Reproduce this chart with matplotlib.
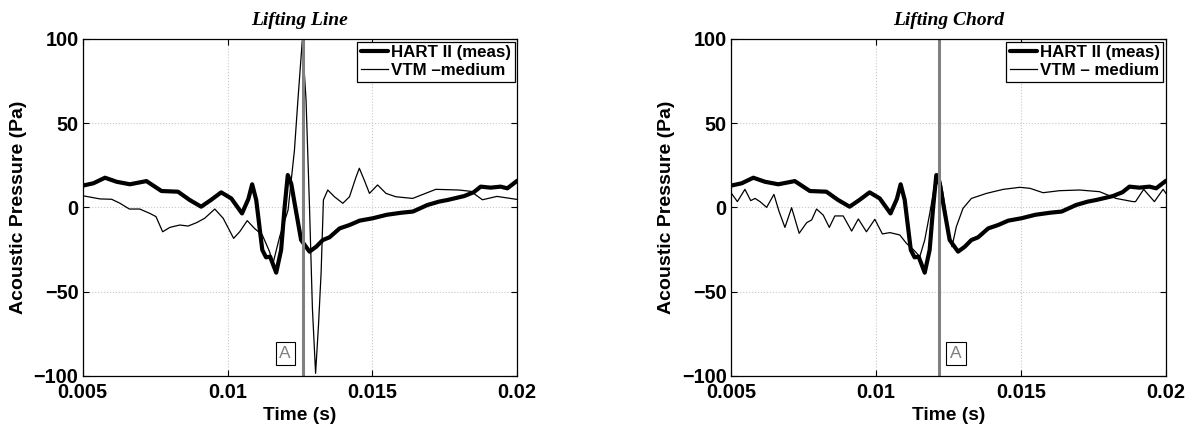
import numpy as np
import matplotlib
matplotlib.use('Agg')
import matplotlib.pyplot as plt

plt.rcParams['font.family'] = ['Liberation Sans', 'DejaVu Sans']
plt.rcParams['font.weight'] = 'bold'

# Измерения HART II (время в мс, давление в Па)
hart_t = [5.0, 5.37, 5.77, 6.17, 6.63, 7.2, 7.72, 8.29, 8.69, 9.09,
          9.43, 9.78, 10.13, 10.5, 10.72, 10.85, 10.99, 11.2, 11.33, 11.47,
          11.68, 11.85, 11.97, 12.08, 12.2, 12.31, 12.54, 12.83, 13.06, 13.29,
          13.52, 13.87, 14.21, 14.56, 15.01, 15.5, 16.0, 16.4, 16.9, 17.3,
          17.6, 18.17, 18.5, 18.74, 19.08, 19.43, 19.66, 20.0]
hart_p = [12.9, 14.3, 17.6, 15.2, 13.7, 15.6, 9.7, 9.3, 4.4, 0.4,
          4.4, 8.9, 5.3, -3.6, 5, 13.7, 4.4, -25.3, -29.7, -29.3,
          -38.8, -25.3, 0, 19.2, 14, 3, -19.4, -26.3, -23.4, -19.4,
          -17.8, -12.5, -10.5, -7.9, -6.5, -4.4, -3.2, -2.5, 1.4, 3.4,
          4.4, 6.7, 9, 12.3, 11.7, 12.3, 11.3, 15.8]

# VTM - Lifting Line
line_t = [5.0, 5.6, 6.0, 6.29, 6.61, 6.97, 7.32, 7.53, 7.76, 8.01,
          8.35, 8.64, 8.93, 9.21, 9.56, 9.85, 10.21, 10.42, 10.68, 10.93,
          11.2, 11.45, 11.57, 11.8, 12.09, 12.31, 12.43, 12.58, 12.71, 12.83,
          12.93, 13.04, 13.14, 13.23, 13.31, 13.46, 13.69, 13.98, 14.21, 14.44,
          14.55, 14.72, 14.9, 15.18, 15.47, 15.81, 16.39, 17.19, 17.99, 18.4,
          18.8, 19.3, 20.0]
line_p = [6.9, 5, 4.8, 2.4, -1, -1, -3.6, -5.5, -14.5, -11.9,
          -10.5, -11.1, -9.1, -6.5, -1, -6.5, -18.4, -14.5, -7.9, -12.5,
          -16.4, -26.3, -33.3, -17.4, -1.6, 34, 63.8, 99, 64, 0,
          -60, -98.6, -70, -39, 4.4, 10.3, 6.3, 2.4, 6.3, 18.2,
          23.2, 16.2, 8.3, 13.3, 8.3, 6.3, 5.3, 10.7, 10.3, 9.5,
          4.5, 6.5, 4.7]

# VTM - Lifting Chord
chord_t = [5.0, 5.22, 5.48, 5.68, 5.83, 6.0, 6.23, 6.48, 6.66, 6.86,
           7.09, 7.35, 7.61, 7.78, 7.95, 8.18, 8.39, 8.58, 8.87, 9.16,
           9.39, 9.67, 9.96, 10.22, 10.48, 10.82, 11.05, 11.3, 11.51, 11.68,
           11.86, 12.03, 12.17, 12.31, 12.49, 12.62, 12.77, 13.0, 13.29, 13.81,
           14.39, 14.96, 15.31, 15.76, 16.33, 17.02, 17.71, 18.28, 18.86, 18.95,
           19.23, 19.6, 19.9, 20.0]
chord_p = [8.7, 3.4, 10.7, 4, 5.3, 3.4, 0, 7.7, -2.6, -11.9,
           -0.2, -15.4, -9.1, -7.5, -1, -4.6, -11.9, -5.1, -5.1, -14.1,
           -6.9, -14.5, -7.1, -15.8, -15, -16.4, -21.4, -25.3, -29.3, -19.4,
           -3, 14.3, 21.2, 8.3, -13.5, -23.4, -11.5, -0.6, 5.3, 8.3,
           10.7, 11.9, 11.3, 8.7, 9.9, 10.3, 9.3, 5.3, 3.4, 3.4,
           10.7, 3.4, 10.7, 8.3]

titles = ['Lifting Line', 'Lifting Chord']
vtm_labels = ['VTM \u2013medium', 'VTM \u2013 medium']
marker_t = [12.6, 12.18]      # положение линии "A", мс
label_t = [11.99, 12.76]      # положение подписи "A", мс
xticks = [0.005, 0.01, 0.015, 0.02]
xticklabels = ['0.005', '0.01', '0.015', '0.02']
yticks = [-100, -50, 0, 50, 100]

fig = plt.figure(figsize=(11.92, 4.29), dpi=100)
W, H = 1192.0, 429.0
axes = [fig.add_axes([82.7 / W, 1 - 375.7 / H, 434.5 / W, 336.7 / H]),
        fig.add_axes([731.0 / W, 1 - 375.7 / H, 435.0 / W, 336.7 / H])]

vtm_data = [(line_t, line_p), (chord_t, chord_p)]

for i, ax in enumerate(axes):
    ht = np.array(hart_t) * 1e-3
    vt = np.array(vtm_data[i][0]) * 1e-3
    ax.grid(True, linestyle=':', color='#c8c8c8', linewidth=0.8)
    ax.plot(ht, hart_p, color='black', linewidth=3.0, label='HART II (meas)',
            solid_joinstyle='round', solid_capstyle='round')
    ax.plot(vt, vtm_data[i][1], color='black', linewidth=0.9, label=vtm_labels[i],
            solid_joinstyle='round')
    ax.axvline(marker_t[i] * 1e-3, color='#808080', linewidth=2.2)
    ax.text(label_t[i] * 1e-3, -87, 'A', color='#808080', fontsize=12.5,
            fontweight='normal', ha='center', va='center',
            bbox=dict(boxstyle='square,pad=0.22', fc='white', ec='black', lw=0.8))

    ax.set_xlim(0.005, 0.02)
    ax.set_ylim(-100, 100)
    ax.set_xticks(xticks)
    ax.set_xticklabels(xticklabels)
    ax.set_yticks(yticks)
    ax.tick_params(direction='in', length=4, width=0.8, top=True, right=True,
                   labelsize=14.3, pad=3)
    ax.tick_params(axis='x', pad=5.5)
    for s in ax.spines.values():
        s.set_linewidth(0.9)

    ax.set_xlabel('Time (s)', fontsize=13.8, fontweight='bold', labelpad=3)
    ax.set_ylabel('Acoustic Pressure (Pa)', fontsize=14, fontweight='bold', labelpad=5)
    ax.set_title(titles[i], fontsize=14, fontweight='bold', style='italic',
                 family='Liberation Serif', pad=10)

    leg = ax.legend(loc='upper right', fontsize=12.2, frameon=True, fancybox=False,
                    edgecolor='black', framealpha=1, borderpad=0.2,
                    labelspacing=0.2, handlelength=1.6, handletextpad=0.2,
                    borderaxespad=0.15)
    leg.get_frame().set_linewidth(0.9)
    for t in leg.get_texts():
        t.set_fontweight('bold')

fig.savefig('out.png', dpi=100)
